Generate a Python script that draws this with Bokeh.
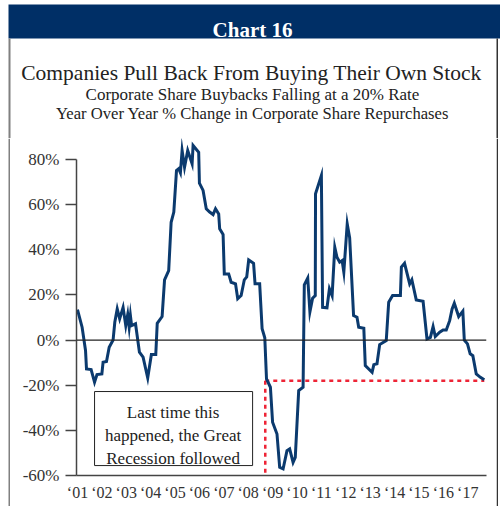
from bokeh.plotting import figure
from bokeh.models import Range1d, FixedTicker, Span
from bokeh.layouts import row, column
from bokeh.core.properties import value
from bokeh.embed import file_html
from bokeh.resources import INLINE

# ---- data ----
years = [2001.00, 2001.19, 2001.33, 2001.37, 2001.56, 2001.70, 2001.80, 2002.00, 2002.05, 2002.19,
         2002.30, 2002.46, 2002.53, 2002.63, 2002.73, 2002.87, 2002.98, 2003.06, 2003.12, 2003.17,
         2003.22, 2003.38, 2003.54, 2003.69, 2003.88, 2004.03, 2004.21, 2004.27, 2004.47, 2004.57,
         2004.74, 2004.84, 2004.95, 2005.06, 2005.15, 2005.22, 2005.29, 2005.39, 2005.52, 2005.70,
         2005.74, 2005.97, 2006.00, 2006.15, 2006.28, 2006.42, 2006.56, 2006.66, 2006.79, 2006.83,
         2006.97, 2007.02, 2007.20, 2007.30, 2007.48, 2007.57, 2007.71, 2007.84, 2007.94, 2008.02,
         2008.22, 2008.28, 2008.47, 2008.57, 2008.68, 2008.75, 2008.91, 2009.00, 2009.18, 2009.29,
         2009.43, 2009.59, 2009.70, 2009.84, 2009.93, 2010.07, 2010.25, 2010.30, 2010.44, 2010.53,
         2010.64, 2010.75, 2010.76, 2011.00, 2011.05, 2011.23, 2011.33, 2011.44, 2011.55, 2011.64,
         2011.75, 2011.85, 2011.92, 2012.06, 2012.16, 2012.32, 2012.46, 2012.53, 2012.74, 2012.80,
         2013.08, 2013.15, 2013.28, 2013.39, 2013.66, 2013.76, 2013.92, 2014.24, 2014.28, 2014.41,
         2014.62, 2014.71, 2014.89, 2015.17, 2015.33, 2015.47, 2015.58, 2015.67, 2015.85, 2015.99,
         2016.12, 2016.26, 2016.36, 2016.45, 2016.63, 2016.80, 2016.86, 2016.99, 2017.10, 2017.21,
         2017.35, 2017.52, 2017.68]
yoy_change = [13.5, 5.7, -4.6, -12.8, -13.1, -18.7, -15.3, -15.0, -9.8, -9.5,
              -3.2, 0.0, 7.9, 13.8, 9.4, 14.5, 6.4, 11.3, 5.7, 10.9,
              6.4, 7.2, -5.4, -7.6, -16.8, -6.4, -6.4, 7.4, 10.4, 26.7,
              30.8, 52.2, 56.7, 75.1, 75.9, 74.1, 84.0, 76.6, 84.0, 78.1,
              86.2, 83.2, 69.5, 66.3, 58.2, 56.7, 55.6, 58.2, 55.9, 49.3,
              46.8, 29.3, 29.3, 25.6, 24.9, 18.3, 19.7, 26.7, 28.0, 35.5,
              34.0, 24.9, 24.9, 5.0, 1.0, -17.2, -20.9, -36.4, -41.6, -56.4,
              -57.1, -49.0, -48.2, -54.2, -52.0, -22.4, -20.9, 24.5, 27.5, 12.5,
              18.5, 19.7, 64.8, 72.9, 14.5, 14.3, 22.7, 19.7, 41.1, 36.7,
              34.5, 35.2, 30.1, 51.5, 45.3, 10.9, 10.1, 5.7, 5.2, -11.3,
              -14.3, -10.9, -10.5, -2.0, -0.2, 16.8, 19.7, 19.7, 32.3, 34.0,
              24.9, 26.7, 17.8, 17.2, 0.5, 1.2, 6.0, 1.6, 3.5, 4.5,
              4.5, 8.6, 13.8, 16.3, 10.4, 12.8, 0.0, -1.7, -6.1, -6.9,
              -15.0, -16.5, -17.6]

y_ticks = [-60, -40, -20, 0, 20, 40, 60, 80]
y_tick_labels = ["-60%", "-40%", "-20%", "0%", "20%", "40%", "60%", "80%"]
x_ticks = list(range(2001, 2018))
x_tick_labels = ["\u2018%02d" % (t % 100) for t in x_ticks]

threshold = -18.0          # current rate of decline
recession_mark = 2008.70   # when that rate was last crossed
note_lines = ["Last time this", "happened, the Great", "Recession followed"]

header = "Chart 16"
title = "Companies Pull Back From Buying Their Own Stock"
subtitle1 = "Corporate Share Buybacks Falling at a 20% Rate"
subtitle2 = "Year Over Year % Change in Corporate Share Repurchases"

SERIF = "Liberation Serif"
NAVY = "#002f66"
LINE = "#0b3a6e"
RED = "#ee2436"
TXT = "#222222"
GRAY_BORDER = "#808080"
DARK_BORDER = "#333333"


def blank(w, h, x0, x1, y0, y1):
    """An axis-less figure whose data coordinates are page pixels (y downward)."""
    f = figure(width=w, height=h, output_backend="svg", toolbar_location=None,
               x_range=Range1d(x0, x1), y_range=Range1d(y1, y0),
               x_axis_location=None, y_axis_location=None,
               min_border=0, min_border_left=0, min_border_right=0,
               min_border_top=0, min_border_bottom=0)
    f.grid.visible = False
    f.outline_line_color = None
    f.background_fill_color = "white"
    f.border_fill_color = "white"
    return f


# ---- header bar + titles ----
top = blank(500, 138, 0, 500, 0, 138)
top.quad(left=[8], right=[500], top=[4], bottom=[38], fill_color=NAVY, line_color=None)
top.quad(left=[8, 496], right=[10, 497.5], top=[38, 38], bottom=[138, 138],
         fill_color=[GRAY_BORDER, DARK_BORDER], line_color=None)
top.text(x=[252], y=[29], text=[header], text_font=value(SERIF), text_font_size="21px",
         text_font_style="bold", text_color="white", text_align="center",
         text_baseline="alphabetic")
top.text(x=[251, 252, 252], y=[72.7, 94.2, 113], text=[title, subtitle1, subtitle2],
         text_font=value(SERIF), text_font_size=["21.5px", "17px", "16.6px"],
         text_color=TXT, text_align="center", text_baseline="alphabetic")

# ---- side borders beside the chart ----
left_strip = blank(10, 368, 0, 10, 138, 506)
left_strip.quad(left=[8], right=[10], top=[138], bottom=[506], fill_color=GRAY_BORDER, line_color=None)
right_strip = blank(4, 368, 496, 500, 138, 506)
right_strip.quad(left=[496], right=[497.5], top=[138], bottom=[506], fill_color=DARK_BORDER, line_color=None)

# ---- main chart ----
p = figure(width=486, height=368, output_backend="svg", toolbar_location=None,
           x_range=Range1d(2000.96, 2017.77), y_range=Range1d(-60, 89.3),
           min_border_left=66, min_border_right=10, min_border_top=0,
           min_border_bottom=31)
p.outline_line_color = None
p.grid.visible = False
p.background_fill_color = "white"
p.border_fill_color = "white"

yax = p.yaxis[0]
yax.ticker = FixedTicker(ticks=y_ticks)
yax.major_label_overrides = dict(zip(y_ticks, y_tick_labels))
yax.bounds = (-60, 80)
yax.major_tick_out = 11
yax.major_tick_in = 0
yax.minor_tick_out = 0
yax.minor_tick_in = 0
yax.axis_line_color = "#444444"
yax.axis_line_width = 1.5
yax.major_tick_line_color = "#444444"
yax.major_tick_line_width = 1.5
yax.major_label_standoff = 6
yax.major_label_text_font = SERIF
yax.major_label_text_font_size = "17px"
yax.major_label_text_color = "#333333"

xax = p.xaxis[0]
xax.ticker = FixedTicker(ticks=x_ticks)
xax.major_label_overrides = dict(zip(x_ticks, x_tick_labels))
xax.major_tick_out = 0
xax.major_tick_in = 0
xax.minor_tick_out = 0
xax.minor_tick_in = 0
xax.axis_line_color = "#444444"
xax.axis_line_width = 1.5
xax.major_label_standoff = 8
xax.major_label_text_font = SERIF
xax.major_label_text_font_size = "16px"
xax.major_label_text_color = "#333333"

p.add_layout(Span(location=0, dimension="width", line_color="#222222", line_width=1.2))

p.segment(x0=[recession_mark, recession_mark], y0=[threshold, threshold],
          x1=[years[-1], recession_mark], y1=[threshold, -60],
          line_color=RED, line_width=2.5, line_dash="4 4")

p.line(years, yoy_change, line_color=LINE, line_width=3, line_join="miter")

p.quad(left=[2001.70], right=[2008.18], top=[-22.8], bottom=[-55.6],
       fill_color="white", line_color=TXT, line_width=1)
p.text(x=[2004.92] * 3, y=[-32.1, -42.5, -52.25], text=note_lines,
       text_font=value(SERIF), text_font_size="17px", text_align="center",
       text_baseline="alphabetic", text_color=TXT)

layout = column(top, row(left_strip, column(p), right_strip))

open("out.html", "w").write(file_html(layout, INLINE))
